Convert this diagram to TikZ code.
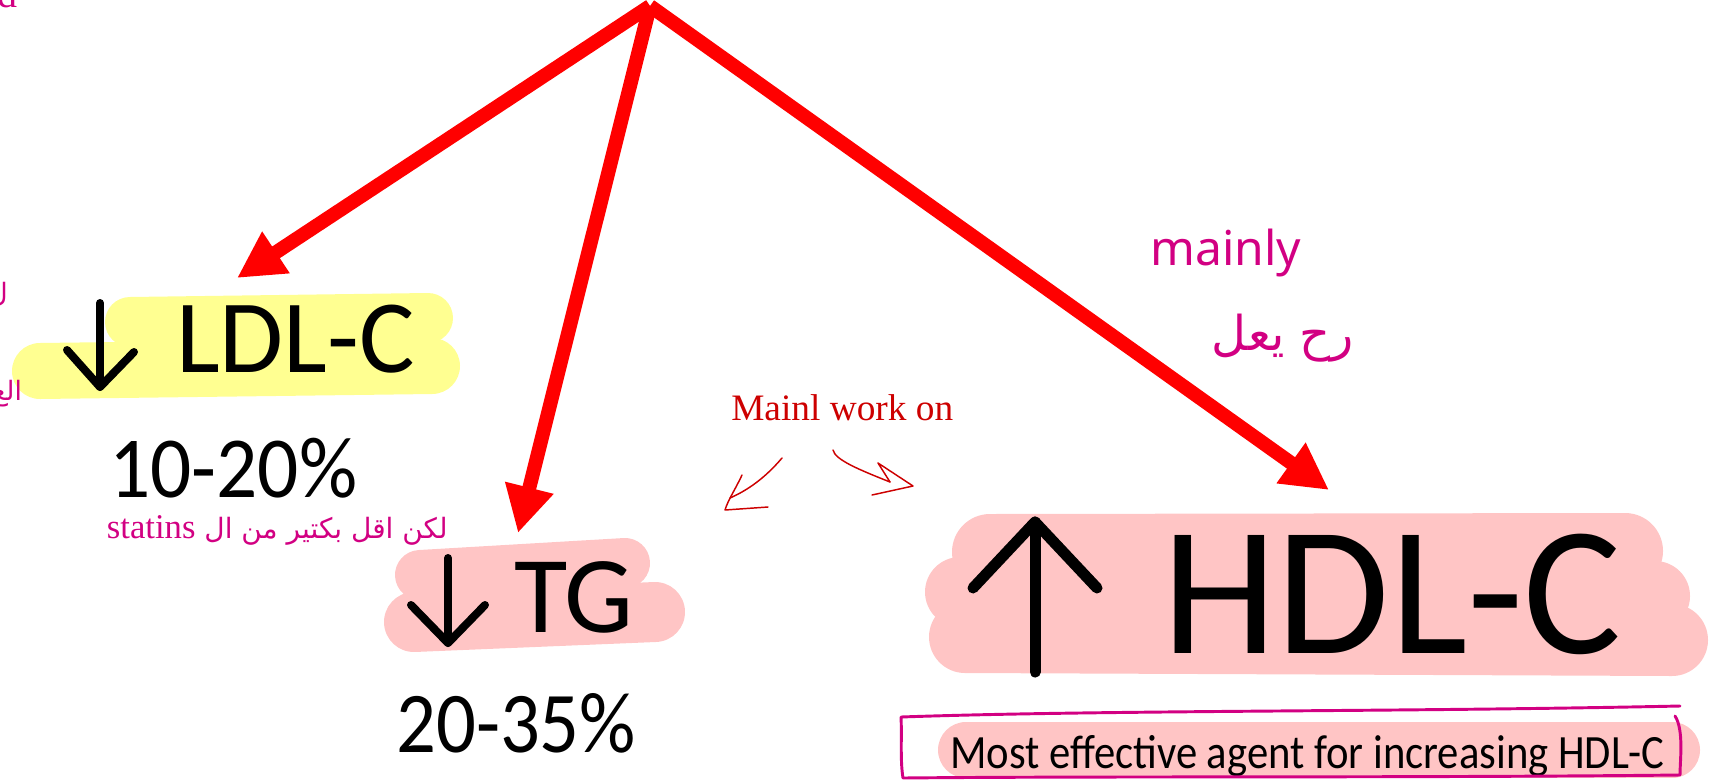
\documentclass[tikz,border=0pt]{standalone}
\usepackage{fontspec}
\setmainfont{Carlito}
\newfontfamily\seriffont{Liberation Serif}
\newfontfamily\arabicfont[Script=Arabic]{DejaVu Sans}
\newfontfamily\handfont{Noto Sans}
\TeXXeTstate=1
\usetikzlibrary{arrows.meta}
\definecolor{hlyellow}{RGB}{255,255,145}
\definecolor{hlpink}{RGB}{255,197,197}
\definecolor{penmagenta}{RGB}{210,0,130}
\definecolor{penred}{RGB}{205,0,0}
\tikzset{
  bigarrow/.style={red, line width=10.5pt, -{Triangle[length=35pt,width=35pt]}},
  glyph/.style={black, line width=6pt, line cap=round, line join=round},
  hlyel/.style={hlyellow, line cap=round},
  hlpnk/.style={hlpink, line cap=round},
  pen/.style={penred, line width=1.1pt, line cap=round, line join=round},
  lbl/.style={anchor=base west, inner sep=0pt},
}
\begin{document}
\begin{tikzpicture}[x=0.75pt, y=-0.75pt]
\useasboundingbox (0,0) rectangle (1722,782);
\begin{scope}
\clip (0,0) rectangle (1722,782);
% highlighter strokes
\draw[hlyel, line width=42pt] (40,371) -- (432,366);
\draw[hlyel, line width=37.5pt] (130,322) -- (428,318);
\draw[hlpnk, line width=45pt] (414,622) -- (655,612);
\draw[hlpnk, line width=37.5pt] (420,575) -- (625,563);
\draw[hlpnk, line width=57pt] (990,552) -- (1625,551);
\draw[hlpnk, line width=52.5pt] (960,592) -- (1655,596);
\draw[hlpnk, line width=54pt] (965,637) -- (1672,640);
\draw[hlpnk, line width=42pt] (966,750) -- (1672,750);
% cut-off notes at the left edge
\node (cutd) [anchor=base east, inner sep=0pt, text=penmagenta] at (18,7) {\seriffont\fontsize{30pt}{34pt}\selectfont d};
\node (cutlam) [anchor=base east, inner sep=0pt, text=penmagenta] at (8,302) {\arabicfont\fontsize{20pt}{24pt}\selectfont\beginR ل\endR};
\node (cutal) [anchor=base west, inner sep=0pt, text=penmagenta] at (-8,400) {\arabicfont\fontsize{20pt}{24pt}\selectfont\beginR الع\endR};
\end{scope}
% big arrows
\coordinate (top) at (650,6);
\coordinate (ldltip) at (237,278);
\coordinate (tgtip) at (518,533);
\coordinate (hdltip) at (1329,490);
\draw[bigarrow] (top) -- (ldltip);
\draw[bigarrow] (top) -- (tgtip);
\draw[bigarrow] (top) -- (hdltip);
% arrow glyphs
\draw[glyph] (100,303) -- (100,387);
\draw[glyph] (67,350) -- (100,387) -- (134,352);
\draw[glyph] (448,558) -- (448,643);
\draw[glyph] (411,605) -- (448,643) -- (485,605);
\draw[glyph, line width=8.25pt] (1035,672) -- (1035,522);
\draw[glyph, line width=8.25pt] (973,588) -- (1035,522) -- (1097,588);
% labels
\node (ldl) [lbl] at (176,372) {\fontsize{78pt}{82pt}\selectfont LDL-C};
\node (tg) [lbl] at (514,632) {\fontsize{82pt}{86pt}\selectfont TG};
\node (hdl) [lbl] at (1162,653) {\fontsize{138pt}{142pt}\selectfont HDL-C};
\node (ldlpct) [lbl] at (109,497) {\scalebox{1}[1.07]{\fontsize{61pt}{66pt}\selectfont 10-20\%}};
\node (tgpct) [lbl] at (396,752) {\scalebox{1}[1.1]{\fontsize{59pt}{64pt}\selectfont 20-35\%}};
\node (best) [lbl] at (950,768) {\scalebox{1}[1.12]{\fontsize{32pt}{36pt}\selectfont Most effective agent for increasing HDL-C}};
% notes
\node (statins) [anchor=base east, inner sep=0pt, text=penmagenta] at (448,538) {\fontsize{21pt}{25pt}\selectfont\arabicfont\beginR لكن اقل بكتير من ال \beginL{\seriffont\fontsize{26pt}{30pt}\selectfont statins}\endL\endR};
\node (mainl) [lbl, text=penred] at (731,420) {\seriffont\fontsize{28pt}{32pt}\selectfont Mainl work on};
\node (mainly) [lbl, text=penmagenta] at (1150,265) {\handfont\fontsize{36pt}{40pt}\selectfont mainly};
\node (rah) [anchor=center, inner sep=0pt, text=penmagenta] at (1283,338) {\arabicfont\fontsize{36pt}{40pt}\selectfont\beginR رح يعل\endR};
% little pen arrows
\draw[pen] (782,458) .. controls (765,478) and (748,490) .. (730,498);
\draw[pen] (742,475) .. controls (735,490) and (728,500) .. (725,510) -- (768,507);
\draw[pen] (833,450) .. controls (835,460) and (860,470) .. (890,482);
\draw[pen] (890,482) -- (878,463) -- (913,486) -- (872,495);
\draw[penmagenta, line width=2.2pt, line cap=round, line join=round]
  (901,717) .. controls (1100,710) and (1400,712) .. (1680,706)
  (1675,716) .. controls (1684,730) and (1680,760) .. (1680,775)
  .. controls (1400,778) and (1100,776) .. (903,778)
  .. controls (900,760) and (902,735) .. (901,717);
\end{tikzpicture}
\end{document}
